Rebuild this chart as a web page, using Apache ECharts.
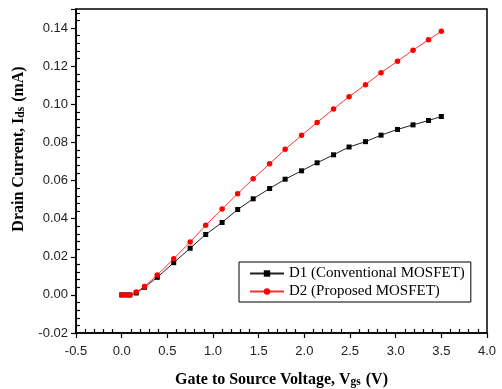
<!DOCTYPE html>
<html>
<head>
<meta charset="utf-8">
<script src="https://cdn.jsdelivr.net/npm/echarts@6/dist/echarts.min.js"></script>
<style>
  html, body { margin: 0; padding: 0; background: #fff; }
  #chart { width: 502px; height: 389px; }
</style>
</head>
<body>
<div id="chart"></div>
<script>
// Gate voltage sweep (V)
const vgs = [0, 0.05, 0.09, 0.16, 0.25, 0.39, 0.57, 0.75, 0.92, 1.10, 1.27, 1.44,
             1.62, 1.79, 1.97, 2.14, 2.32, 2.49, 2.67, 2.84, 3.02, 3.19, 3.36, 3.50];
// Drain current (mA) for each device
const d1Current = [0, 0, 0, 0.0010, 0.0040, 0.0092, 0.0169, 0.0245, 0.0317, 0.0380, 0.0448, 0.0504,
                   0.0558, 0.0607, 0.0651, 0.0693, 0.0735, 0.0776, 0.0804, 0.0838, 0.0868, 0.0892, 0.0915, 0.0936];
const d2Current = [0, 0, 0, 0.0015, 0.0044, 0.0104, 0.0190, 0.0277, 0.0365, 0.0450, 0.0531, 0.0609,
                   0.0688, 0.0764, 0.0837, 0.0905, 0.0975, 0.1040, 0.1103, 0.1166, 0.1226, 0.1284, 0.1339, 0.1383];
const seriesNames = ['D1 (Conventional MOSFET)', 'D2 (Proposed MOSFET)'];

const pairs = (xs, ys) => xs.map((x, i) => [x, ys[i]]);

const sans = 'Liberation Sans, Arial, sans-serif';
const serif = 'Liberation Serif, Times New Roman, serif';

const xRange = { min: -0.5, max: 4.0, interval: 0.5 };
const yRange = { min: -0.02, max: 0.15, interval: 0.02 };

const chart = echarts.init(document.getElementById('chart'), null, { renderer: 'canvas' });

const axisLine = { show: true, onZero: false, lineStyle: { color: '#000', width: 1.5 } };
const hiddenLine = { show: false, onZero: false };
const titleRich = {
  t: { fontFamily: serif, fontWeight: 'bold', fontSize: 16, color: '#000' },
  s: { fontFamily: serif, fontWeight: 'bold', fontSize: 11.5, color: '#000', padding: [5, 1, 0, 0] }
};

chart.setOption({
  animation: false,
  backgroundColor: '#fff',
  grid: {
    left: 76, right: 15, top: 9, bottom: 56,
    outerBoundsMode: 'none',
    containLabel: false,
    show: true, borderColor: '#000', borderWidth: 1.5, backgroundColor: 'transparent'
  },
  legend: {
    orient: 'vertical',
    left: 239, top: 262,
    padding: [4, 6, 3, 10],
    itemGap: 3,
    itemWidth: 34, itemHeight: 8,
    borderColor: '#000', borderWidth: 1,
    textStyle: { fontFamily: serif, fontSize: 15, color: '#000' },
    data: seriesNames
  },
  xAxis: [
    {
      type: 'value', position: 'bottom', ...xRange,
      axisLine,
      splitLine: { show: false },
      axisTick: { show: true, inside: false, length: 5, lineStyle: { color: '#000', width: 1.2 } },
      minorTick: { show: false },
      axisLabel: {
        margin: 12, color: '#222', fontFamily: sans, fontSize: 13,
        formatter: v => v.toFixed(1)
      },
      name: '{t|Gate to Source Voltage, V}{s|gs}{t| (V)}',
      nameLocation: 'middle', nameGap: 38,
      nameTextStyle: { rich: titleRich }
    },
    {
      // inward minor ticks along the bottom edge
      type: 'value', position: 'bottom', offset: 0, ...xRange,
      axisLine: hiddenLine,
      splitLine: { show: false },
      axisTick: { show: false, inside: true },
      minorTick: { show: true, splitNumber: 5, length: 4, lineStyle: { color: '#000', width: 1.2 } },
      minorSplitLine: { show: false },
      axisLabel: { show: false }
    }
  ],
  yAxis: [
    {
      type: 'value', position: 'left', ...yRange,
      axisLine,
      splitLine: { show: false },
      axisTick: { show: true, inside: false, length: 5, lineStyle: { color: '#000', width: 1.2 } },
      minorTick: { show: false },
      axisLabel: {
        margin: 8, color: '#222', fontFamily: sans, fontSize: 13,
        formatter: v => {
          const k = Math.round(v / 0.02);
          return Math.abs(v - k * 0.02) < 1e-9 ? v.toFixed(2) : '';
        }
      },
      name: '{t|Drain Current, I}{s|ds}{t| (mA)}',
      nameLocation: 'middle', nameGap: 49,
      nameTextStyle: {
        padding: [0, 0, 0, 44],
        rich: titleRich
      }
    },
    {
      // inward minor ticks along the left edge
      type: 'value', position: 'left', offset: 0, ...yRange,
      axisLine: hiddenLine,
      splitLine: { show: false },
      axisTick: { show: false, inside: true },
      minorTick: { show: true, splitNumber: 5, length: 4, lineStyle: { color: '#000', width: 1.2 } },
      minorSplitLine: { show: false },
      axisLabel: { show: false }
    }
  ],
  series: [
    {
      name: seriesNames[0], type: 'line',
      data: pairs(vgs, d1Current),
      symbol: 'rect', symbolSize: 5,
      lineStyle: { color: '#222', width: 1 },
      itemStyle: { color: '#000' },
      z: 3
    },
    {
      name: seriesNames[1], type: 'line',
      data: pairs(vgs, d2Current),
      symbol: 'circle', symbolSize: 5.5,
      lineStyle: { color: '#ff3030', width: 1 },
      itemStyle: { color: '#ff0000' },
      z: 4
    }
  ]
});
</script>
</body>
</html>
